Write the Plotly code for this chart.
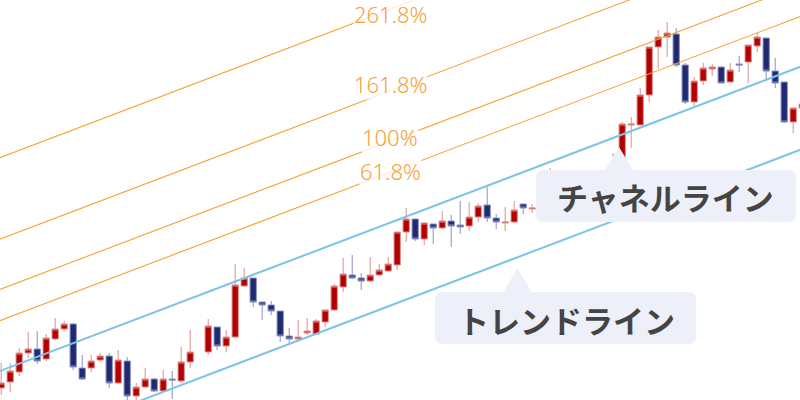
import plotly.graph_objects as go
import numpy as np

# ---- candle data (index, open, high, low, close) ----
idx = list(range(0, 22)) + list(range(23, 90))
opens = [12, 18, 28, 47, 51, 41, 61, 71, 76, 32, 32, 40, 44, 17, 39, 4, 13, 21, 9, 21, 19, 38,
         48, 73, 54, 63, 114, 122, 98, 95, 89, 64, 61, 67, 66, 78, 90, 113, 125, 122, 119, 125, 129,
         135, 168, 181, 161, 176, 172, 179, 175, 174, 183, 195, 182, 177, 178, 196, 191, 197, 195,
         210, 220, 210, 218, 210, 212, 222, 235, 275, 275, 305, 353, 363, 366, 335, 298, 319, 331,
         333, 318, 336, 338, 354, 362, 329, 318, 278, 292]
highs = [37, 37, 52, 68, 69, 66, 82, 79, 77, 45, 45, 47, 47, 50, 43, 17, 32, 22, 30, 29, 53, 70,
         81, 73, 70, 136, 132, 122, 98, 99, 89, 72, 80, 82, 81, 90, 116, 142, 145, 127, 143, 136, 143,
         168, 192, 181, 178, 176, 189, 185, 199, 198, 197, 213, 186, 193, 199, 196, 196, 200, 232,
         225, 224, 228, 224, 227, 228, 247, 278, 283, 312, 353, 370, 378, 372, 337, 323, 337, 336,
         333, 337, 344, 355, 367, 362, 342, 318, 292, 300]
lows = [5, 8, 24, 42, 36, 39, 60, 69, 30, 20, 28, 38, 12, 16, -2, -2, 12, 8, 8, 1, 17, 32,
        45, 50, 48, 62, 113, 93, 80, 85, 58, 55, 60, 65, 65, 73, 89, 108, 121, 110, 118, 124, 128,
        130, 158, 159, 155, 156, 171, 153, 166, 169, 178, 178, 171, 169, 177, 186, 187, 186, 192,
        205, 202, 204, 200, 205, 208, 218, 232, 252, 275, 298, 331, 343, 333, 296, 293, 315, 324,
        317, 318, 328, 317, 348, 319, 312, 277, 267, 290]
closes = [17, 29, 47, 51, 39, 62, 71, 76, 33, 21, 39, 44, 17, 40, 4, 13, 21, 9, 21, 20, 38, 48,
          74, 54, 63, 115, 122, 98, 95, 89, 64, 61, 63, 69, 79, 90, 114, 126, 122, 119, 125, 130, 136,
          168, 181, 161, 177, 172, 179, 174, 173, 183, 194, 182, 178, 178, 190, 192, 192, 190, 215,
          220, 208, 222, 205, 225, 224, 237, 276, 276, 305, 353, 363, 367, 335, 298, 319, 332, 333,
          317, 330, 335, 355, 363, 329, 317, 278, 292, 296]

# ---- trend / channel lines (two anchor points each) ----
channel_x = [0, 88]
channel_y = [29.5, 330.5]
trend_x = [0, 88]
trend_y = [-53.5, 247.5]

# ---- Fibonacci extension levels above the channel line ----
fib_levels = [0.618, 1.0, 1.618, 2.618]
fib_labels = ["61.8%", "100%", "161.8%", "261.8%"]
fib_unit = 81.5

box_labels = ["トレンドライン", "チャネルライン"]

X0, X1 = -0.133, 88.756

fig = go.Figure()
fig.add_trace(go.Candlestick(
    x=idx, open=opens, high=highs, low=lows, close=closes,
    increasing=dict(fillcolor="#B30000", line=dict(color="#DE8F8F", width=1)),
    decreasing=dict(fillcolor="#1F2A70", line=dict(color="#8990C4", width=1)),
    whiskerwidth=0, showlegend=False, hoverinfo="skip"))

def extend(xs, ys, x_lo, x_hi):
    slope = (ys[1] - ys[0]) / (xs[1] - xs[0])
    xe = np.array([x_lo, x_hi])
    return xe, ys[0] + slope * (xe - xs[0])

ex, cy = extend(channel_x, channel_y, X0 - 1, X1 + 1)
_, ty = extend(trend_x, trend_y, X0 - 1, X1 + 1)
slope = (channel_y[1] - channel_y[0]) / (channel_x[1] - channel_x[0])

for lv in fib_levels:
    fig.add_trace(go.Scatter(x=ex, y=cy + lv * fib_unit, mode="lines",
                             line=dict(color="#F4A33A", width=1.1),
                             showlegend=False, hoverinfo="skip"))
for yy in (cy, ty):
    fig.add_trace(go.Scatter(x=ex, y=yy, mode="lines",
                             line=dict(color="#7EC3E4", width=2),
                             showlegend=False, hoverinfo="skip"))

label_x = 43.2
yshifts = [1, 4, 7, -5]
annotations = []
for lv, lab, ys in zip(fib_levels, fib_labels, yshifts):
    yv = channel_y[0] + slope * (label_x - channel_x[0]) + lv * fib_unit
    annotations.append(dict(x=label_x, y=yv, xref="x", yref="y", text=lab, showarrow=False,
                            xanchor="center", yanchor="middle",
                            yshift=ys, bgcolor="rgba(255,255,255,0.8)", borderpad=0,
                            font=dict(family="Noto Sans", size=22, color="#F2A23A", weight=300)))

def P(x, y):
    return f"{x/800:.5f},{1 - y/400:.5f}"

def bubble(x0, y0, x1, y1, ax, ay, tw, r=8):
    d = (f"M{P(x0 + r, y0)} L{P(ax - tw/2, y0)} L{P(ax, ay)} L{P(ax + tw/2, y0)} "
         f"L{P(x1 - r, y0)} Q{P(x1, y0)} {P(x1, y0 + r)} L{P(x1, y1 - r)} "
         f"Q{P(x1, y1)} {P(x1 - r, y1)} L{P(x0 + r, y1)} Q{P(x0, y1)} {P(x0, y1 - r)} "
         f"L{P(x0, y0 + r)} Q{P(x0, y0)} {P(x0 + r, y0)} Z")
    return dict(type="path", path=d, xref="paper", yref="paper",
                fillcolor="#EDEFF9", line=dict(width=0), layer="above")

shapes = [bubble(435, 292, 696, 344, 517.5, 268, 28),
          bubble(536, 170, 796, 222, 619, 147, 28)]

for lab, (cx, cyy) in zip(box_labels, [(566.5, 319), (665, 196.5)]):
    annotations.append(dict(x=cx/800, y=1 - cyy/400, xref="paper", yref="paper",
                            xanchor="center", yanchor="middle",
                            text=f"<b>{lab}</b>", showarrow=False,
                            font=dict(family="Noto Sans CJK JP", size=31, color="#444444")))

fig.update_layout(
    width=800, height=400, margin=dict(l=0, r=0, t=0, b=0),
    paper_bgcolor="white", plot_bgcolor="white",
    boxgap=0.3, boxgroupgap=0,
    xaxis=dict(range=[X0, X1], visible=False, rangeslider=dict(visible=False)),
    yaxis=dict(range=[0, 400], visible=False),
    shapes=shapes, annotations=annotations, showlegend=False)

fig.write_html("out.html", config={"displayModeBar": False},
               post_script="document.body.style.margin='0';document.body.style.overflow='hidden';")
